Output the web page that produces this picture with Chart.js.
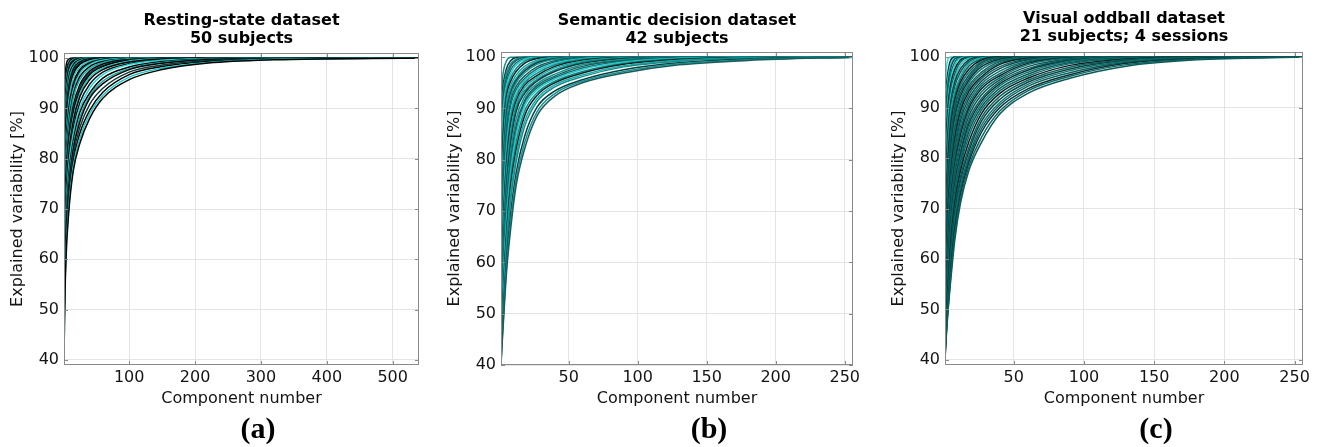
<!DOCTYPE html>
<html>
<head>
<meta charset="utf-8">
<script src="https://cdn.jsdelivr.net/npm/chart.js@4.4.1/dist/chart.umd.min.js"></script>
<style>
  html, body { margin: 0; padding: 0; background: #fff; }
  canvas { position: absolute; top: 0; }
</style>
</head>
<body>
<canvas id="restingChart" width="440" height="447" style="left:0"></canvas>
<canvas id="semanticChart" width="440" height="447" style="left:440px"></canvas>
<canvas id="oddballChart" width="440" height="447" style="left:880px"></canvas>
<script>
// tick values
const percentTicks = [40, 50, 60, 70, 80, 90, 100];
const restingTicks = [100, 200, 300, 400, 500];
const taskTicks = [50, 100, 150, 200, 250];

// (a) resting-state, explained variability [%] per subject
const restingComponents = [1, 2, 4, 8, 15, 25, 40, 60, 100, 150, 220, 320, 540];
const restingCurves = [
    [40, 50, 60, 69, 77.5, 83, 88, 92, 95.7, 97.7, 99, 99.65, 100],
    [39.2, 51.3, 61.2, 70.1, 78.5, 84, 88.9, 92.6, 96.2, 98, 99.13, 99.74, 100],
    [44, 52.5, 62.2, 71, 79.4, 85, 89.6, 93.2, 96.7, 98.3, 99.3, 99.8, 100],
    [45.3, 54, 63.6, 72.5, 80.6, 86.2, 90.8, 94, 97.2, 98.6, 99.5, 99.87, 100],
    [46.7, 55.5, 65, 74, 81.8, 87.3, 92, 94.9, 97.7, 98.95, 99.7, 99.93, 100],
    [47.6, 56.7, 66, 75.2, 82.6, 88.2, 92.5, 95.4, 97.9, 99.1, 99.75, 99.96, 100],
    [48.5, 57.9, 67.1, 76.4, 83.5, 89.2, 93, 96, 98.2, 99.3, 99.81, 100, 100],
    [50, 60, 69, 78.2, 85, 90, 94, 96.7, 98.7, 99.55, 99.9, 100, 100],
    [51.5, 61.3, 70.2, 79.3, 86.1, 91.1, 94.8, 97.2, 98.9, 99.7, 99.95, 100, 100],
    [53, 62.7, 71.5, 80.5, 87.3, 92.3, 95.7, 97.7, 99.2, 99.8, 100, 100, 100],
    [54.2, 63.8, 72.7, 81.5, 88.1, 92.9, 96.2, 98, 99.4, 99.85, 100, 100, 100],
    [55.5, 65, 74, 82.5, 89, 93.5, 96.7, 98.3, 99.55, 99.9, 100, 100, 100],
    [56.7, 66, 75.2, 83.3, 89.7, 94.1, 97, 98.5, 99.63, 99.94, 100, 100, 100],
    [57.9, 67.1, 76.4, 84.2, 90.5, 94.7, 97.4, 98.8, 99.72, 99.98, 100, 100, 100],
    [60, 69, 78.2, 85.6, 92, 95.7, 97.9, 99.1, 99.85, 100, 100, 100, 100],
    [61.3, 70.2, 79.3, 86.8, 92.7, 96.3, 98.3, 99.3, 99.9, 100, 100, 100, 100],
    [62.7, 71.5, 80.5, 88, 93.5, 96.9, 98.7, 99.55, 99.95, 100, 100, 100, 100],
    [63.8, 72.7, 81.5, 88.8, 94.2, 97.3, 98.9, 99.65, 99.97, 100, 100, 100, 100],
    [65, 74, 82.5, 89.6, 94.9, 97.7, 99.1, 99.75, 100, 100, 100, 100, 100],
    [67.1, 76.4, 84.2, 91.2, 96, 98.2, 99.4, 99.88, 100, 100, 100, 100, 100],
    [69, 78.2, 85.6, 92.4, 96.7, 98.7, 99.65, 99.93, 100, 100, 100, 100, 100],
    [70.2, 79.3, 86.8, 93.2, 97.2, 98.95, 99.75, 99.96, 100, 100, 100, 100, 100],
    [71.5, 80.5, 88, 94, 97.7, 99.2, 99.85, 100, 100, 100, 100, 100, 100],
    [73.4, 82, 89.2, 95, 98.2, 99.45, 99.9, 100, 100, 100, 100, 100, 100],
    [75.3, 83.4, 90.4, 95.9, 98.6, 99.67, 99.98, 100, 100, 100, 100, 100, 100],
    [77, 84.8, 91.6, 96.6, 98.9, 99.77, 99.99, 100, 100, 100, 100, 100, 100],
    [78.8, 86.3, 92.8, 97.3, 99.25, 99.88, 100, 100, 100, 100, 100, 100, 100],
    [80.1, 87.5, 93.7, 97.8, 99.5, 99.94, 100, 100, 100, 100, 100, 100, 100],
    [81.5, 88.8, 94.7, 98.2, 99.7, 100, 100, 100, 100, 100, 100, 100, 100],
    [83.2, 90.4, 95.7, 98.6, 99.8, 100, 100, 100, 100, 100, 100, 100, 100],
    [85, 92, 96.7, 99.1, 99.9, 100, 100, 100, 100, 100, 100, 100, 100],
    [89, 94.9, 98.3, 99.75, 100, 100, 100, 100, 100, 100, 100, 100, 100]
];

// (b) semantic decision
const semanticComponents = [1, 2, 3, 5, 8, 12, 18, 27, 40, 60, 90, 130, 180, 256];
const semanticCurves = [
    [40, 45, 49.5, 58, 66.5, 75, 82, 88.5, 92.4, 95, 96.9, 98.5, 99.35, 100],
    [40.4, 45.7, 50.5, 59.2, 68, 76.2, 83.2, 89.3, 92.9, 95.3, 97.2, 98.7, 99.5, 100],
    [40.8, 46.5, 51.6, 60.5, 69.5, 77.5, 84.5, 90.2, 93.4, 95.6, 97.55, 98.9, 99.65, 100],
    [41.5, 47.8, 53.6, 62.7, 72.2, 79.6, 86.4, 91.3, 94.2, 96.2, 98.1, 99.22, 99.83, 100],
    [42, 48.6, 54.8, 64, 73.6, 80.8, 87.4, 91.9, 94.6, 96.5, 98.3, 99.4, 99.9, 100],
    [42.5, 49.5, 56, 65.3, 75, 82, 88.5, 92.5, 95, 96.9, 98.6, 99.55, 99.95, 100],
    [43.1, 50.6, 57.4, 66.8, 76.3, 83.4, 89.4, 93, 95.3, 97.2, 98.8, 99.67, 99.97, 100],
    [43.8, 51.8, 58.8, 68.4, 77.7, 84.8, 90.4, 93.6, 95.7, 97.6, 99.03, 99.8, 100, 100],
    [44.4, 52.9, 60, 70, 78.8, 85.7, 91, 94, 96, 97.9, 99.2, 99.86, 100, 100],
    [45, 54, 61.3, 71.5, 80, 86.7, 91.5, 94.4, 96.3, 98.2, 99.35, 99.92, 100, 100],
    [46, 55.6, 62.9, 73.2, 81.6, 88, 92.2, 94.8, 96.7, 98.5, 99.55, 99.96, 100, 100],
    [47, 57.2, 64.5, 75, 83.2, 89.4, 92.9, 95.3, 97.2, 98.8, 99.75, 100, 100, 100],
    [47.8, 58.6, 66, 76.3, 84.4, 90.1, 93.4, 95.6, 97.5, 99, 99.82, 100, 100, 100],
    [48.6, 60, 67.5, 77.7, 85.7, 90.8, 94, 96, 97.9, 99.2, 99.9, 100, 100, 100],
    [49.7, 61.5, 69.4, 79.1, 87, 91.5, 94.5, 96.4, 98.2, 99.4, 99.95, 100, 100, 100],
    [50.9, 63, 71.3, 80.5, 88.2, 92.3, 95, 96.85, 98.5, 99.58, 100, 100, 100, 100],
    [52.4, 64.7, 73.1, 82.2, 89.3, 93, 95.4, 97.3, 98.8, 99.7, 100, 100, 100, 100],
    [54, 66.5, 75, 84, 90.5, 93.7, 95.8, 97.7, 99.05, 99.85, 100, 100, 100, 100],
    [56, 69, 77, 85.7, 91.4, 94.3, 96.3, 98.1, 99.3, 99.93, 100, 100, 100, 100],
    [58, 71.5, 79, 87.5, 92.4, 95, 96.9, 98.6, 99.6, 100, 100, 100, 100, 100],
    [59.6, 73.2, 80.5, 88.7, 93, 95.4, 97.3, 98.85, 99.7, 100, 100, 100, 100, 100],
    [61.3, 75, 82, 90, 93.7, 95.8, 97.7, 99.1, 99.85, 100, 100, 100, 100, 100],
    [63.9, 77.5, 84.3, 91.2, 94.5, 96.5, 98.2, 99.4, 99.92, 100, 100, 100, 100, 100],
    [66.5, 80, 86.7, 92.4, 95.3, 97.2, 98.8, 99.75, 100, 100, 100, 100, 100, 100],
    [69.9, 82.7, 88.7, 93.4, 96, 97.8, 99.2, 99.87, 100, 100, 100, 100, 100, 100],
    [73.3, 85.5, 90.7, 94.5, 96.8, 98.5, 99.58, 100, 100, 100, 100, 100, 100, 100],
    [76.1, 87.7, 92, 95.2, 97.5, 98.9, 99.75, 100, 100, 100, 100, 100, 100, 100],
    [79, 90, 93.2, 96, 98.2, 99.35, 99.95, 100, 100, 100, 100, 100, 100, 100],
    [82.2, 91.5, 94.3, 96.9, 98.7, 99.6, 99.97, 100, 100, 100, 100, 100, 100, 100],
    [85.5, 93, 95.4, 97.8, 99.3, 99.94, 100, 100, 100, 100, 100, 100, 100, 100],
    [91.3, 95.7, 97.6, 99.3, 100, 100, 100, 100, 100, 100, 100, 100, 100, 100]
];

// (c) visual oddball, 21 subjects x 4 sessions
const oddballComponents = [1, 2, 3, 5, 8, 12, 18, 27, 40, 60, 90, 130, 180, 256];
const oddballCurves = [
    [40, 45, 49, 55.5, 63.8, 71, 77.5, 83.1, 88.7, 92.8, 95.8, 98.2, 99.45, 100],
    [40.3, 45.5, 49.5, 56.4, 64.9, 71.9, 78.3, 84.1, 89.3, 93.3, 96.2, 98.5, 99.6, 100],
    [40.6, 46, 49.9, 57.3, 65.9, 72.7, 79.1, 85.1, 89.95, 93.7, 96.5, 98.75, 99.71, 100],
    [41, 46.6, 50.6, 58.3, 67, 73.6, 79.8, 85.8, 90.5, 94.2, 96.9, 98.95, 99.8, 100],
    [41.3, 47.1, 51.2, 59.3, 68, 74.5, 80.4, 86.5, 91, 94.6, 97.3, 99.15, 99.87, 100],
    [41.7, 47.7, 52, 60.3, 69, 75.4, 81.3, 87.3, 91.6, 95, 97.65, 99.3, 99.93, 100],
    [42, 48.2, 52.7, 61.3, 70, 76.3, 82.1, 88, 92.2, 95.4, 98, 99.47, 99.98, 100],
    [42.5, 48.9, 53.8, 62.6, 71, 77.4, 83.2, 88.8, 92.8, 95.8, 98.35, 99.6, 100, 100],
    [43, 49.5, 54.8, 63.8, 72, 78.4, 84.3, 89.5, 93.3, 96.2, 98.7, 99.75, 100, 100],
    [43.5, 50.1, 55.8, 64.9, 72.9, 79.1, 85.2, 90.1, 93.8, 96.6, 98.9, 99.85, 100, 100],
    [44, 50.7, 56.7, 66, 73.8, 79.8, 86, 90.7, 94.3, 97, 99.15, 99.92, 100, 100],
    [44.5, 51.4, 57.6, 67, 74.7, 80.6, 86.7, 91.3, 94.7, 97.4, 99.3, 99.96, 100, 100],
    [45, 52, 58.5, 68, 75.5, 81.3, 87.4, 91.8, 95.1, 97.7, 99.45, 100, 100, 100],
    [45.7, 53, 59.8, 69.2, 76.7, 82.4, 88.3, 92.5, 95.5, 98.1, 99.6, 100, 100, 100],
    [46.3, 54.1, 61, 70.3, 77.8, 83.4, 89.1, 93.1, 95.9, 98.5, 99.75, 100, 100, 100],
    [46.9, 55.1, 62.2, 71.3, 78.6, 84.5, 89.8, 93.7, 96.3, 98.75, 99.85, 100, 100, 100],
    [47.5, 56.1, 63.3, 72.2, 79.4, 85.5, 90.4, 94.2, 96.7, 99, 99.92, 100, 100, 100],
    [48.3, 57.3, 64.7, 73.4, 80.4, 86.5, 91.1, 94.7, 97.2, 99.2, 99.96, 100, 100, 100],
    [49, 58.5, 66, 74.5, 81.3, 87.4, 91.8, 95.2, 97.7, 99.45, 100, 100, 100, 100],
    [49.7, 59.9, 67.6, 75.8, 82.6, 88.3, 92.5, 95.7, 98.1, 99.6, 100, 100, 100, 100],
    [50.3, 61.3, 69.2, 77, 83.8, 89.2, 93.2, 96.1, 98.55, 99.77, 100, 100, 100, 100],
    [51.2, 62.6, 70.1, 78, 84.8, 89.9, 93.8, 96.6, 98.8, 99.86, 100, 100, 100, 100],
    [52, 63.8, 71, 79, 85.8, 90.6, 94.3, 97, 99.1, 99.95, 100, 100, 100, 100],
    [53.3, 65.3, 72.2, 80, 86.9, 91.4, 94.9, 97.6, 99.3, 99.98, 100, 100, 100, 100],
    [54.5, 66.8, 73.4, 81, 87.9, 92.2, 95.4, 98.1, 99.55, 100, 100, 100, 100, 100],
    [55.8, 68.3, 74.7, 82.2, 88.9, 92.9, 95.9, 98.5, 99.7, 100, 100, 100, 100, 100],
    [57, 69.7, 76, 83.4, 89.8, 93.6, 96.4, 98.85, 99.85, 100, 100, 100, 100, 100],
    [58.5, 71, 77.3, 84.7, 90.6, 94.3, 97, 99.1, 99.93, 100, 100, 100, 100, 100],
    [60, 72.2, 78.6, 86, 91.4, 95, 97.6, 99.4, 100, 100, 100, 100, 100, 100],
    [61.9, 73.9, 80, 87.4, 92.3, 95.6, 98.2, 99.6, 100, 100, 100, 100, 100, 100],
    [63.8, 75.5, 81.3, 88.7, 93.2, 96.2, 98.7, 99.82, 100, 100, 100, 100, 100, 100],
    [65.9, 77.3, 83.2, 89.9, 94.2, 97, 99.1, 99.91, 100, 100, 100, 100, 100, 100],
    [68, 79, 85, 91, 95.1, 97.7, 99.45, 100, 100, 100, 100, 100, 100, 100],
    [70.1, 80.8, 86.7, 92.2, 95.9, 98.4, 99.7, 100, 100, 100, 100, 100, 100, 100],
    [72.2, 82.5, 88.4, 93.4, 96.7, 99, 99.92, 100, 100, 100, 100, 100, 100, 100],
    [74.4, 84.6, 89.8, 94.5, 97.6, 99.4, 99.96, 100, 100, 100, 100, 100, 100, 100],
    [76.5, 86.6, 91.2, 95.5, 98.4, 99.73, 100, 100, 100, 100, 100, 100, 100, 100],
    [78.9, 88.6, 92.8, 96.6, 99, 99.87, 100, 100, 100, 100, 100, 100, 100, 100],
    [81.3, 90.6, 94.3, 97.7, 99.6, 100, 100, 100, 100, 100, 100, 100, 100, 100],
    [84.2, 92.3, 95.6, 98.5, 99.8, 100, 100, 100, 100, 100, 100, 100, 100, 100],
    [87, 94, 96.8, 99.35, 100, 100, 100, 100, 100, 100, 100, 100, 100, 100],
    [92.8, 97.7, 99.45, 100, 100, 100, 100, 100, 100, 100, 100, 100, 100, 100]
];

// line colours, cycled over the curves
const restingPalette = ['#000000', '#1fc8c8', '#000000', '#0a3a3a', '#000000', '#15aaaa', '#000000', '#26d3d3', '#041e1e'];
const semanticPalette = ['#1d5a5a', '#0f9595', '#0c3c3c', '#138c8c', '#19a9a9', '#0a2020', '#0d8a8a', '#27caca', '#0b6f6f'];
const oddballPalette = ['#0c5a5a', '#0e6767', '#073030', '#0b5f5f', '#117070', '#0a4444', '#0c6262', '#041c1c', '#0e6a6a', '#0b5858',
    '#127676', '#083535', '#0d6363', '#0b5454', '#0f6e6e', '#062626', '#0c5d5d', '#107171', '#0a4a4a', '#0d6565',
    '#052020', '#0f6b6b', '#0c5b5b', '#127878', '#083232', '#0d6161', '#0b5656', '#107272', '#041a1a', '#0e6666',
    '#18a8a8', '#0c5959', '#0a3d3d', '#22c6c6', '#0d6464', '#062424', '#2ad4d4', '#0f6d6d', '#0b5050', '#27cfcf',
    '#073030', '#30dcdc'];

Chart.defaults.font.family = 'DejaVu Sans';
Chart.defaults.color = '#141414';

// box round the plot with inward ticks on all four sides, plus the (a)/(b)/(c) label
const axesBox = {
    id: 'axesBox',
    afterDatasetsDraw(chart, args, opts) {
        const {ctx, chartArea: a, scales: {x, y}} = chart;
        const len = 4;
        ctx.save();
        ctx.strokeStyle = '#8a8a8a';
        ctx.lineWidth = 1;
        ctx.strokeRect(Math.round(a.left) + 0.5, Math.round(a.top) + 0.5, Math.round(a.width) - 1, Math.round(a.height) - 1);
        ctx.beginPath();
        x.ticks.forEach(t => {
            const px = Math.round(x.getPixelForValue(t.value)) + 0.5;
            ctx.moveTo(px, a.bottom); ctx.lineTo(px, a.bottom - len);
            ctx.moveTo(px, a.top); ctx.lineTo(px, a.top + len);
        });
        y.ticks.forEach(t => {
            const py = Math.round(y.getPixelForValue(t.value)) + 0.5;
            ctx.moveTo(a.left, py); ctx.lineTo(a.left + len, py);
            ctx.moveTo(a.right, py); ctx.lineTo(a.right - len, py);
        });
        ctx.stroke();

        ctx.fillStyle = '#000';
        ctx.font = 'bold 30px "Liberation Serif"';
        ctx.textAlign = 'center';
        ctx.textBaseline = 'alphabetic';
        ctx.fillText(opts.label, opts.labelX, 438);
        ctx.restore();
    }
};

function buildDatasets(components, curves, palette) {
    return curves.map((curve, i) => ({
        data: curve.map((v, j) => ({x: components[j], y: v})),
        borderColor: palette[i % palette.length],
        borderWidth: 1.5,
        pointRadius: 0,
        fill: false,
        cubicInterpolationMode: 'monotone'
    }));
}

function makePanel(id, p) {
    const tickFont = {size: 16};
    return new Chart(document.getElementById(id), {
        type: 'line',
        data: {datasets: buildDatasets(p.components, p.curves, p.palette)},
        plugins: [axesBox],
        options: {
            responsive: false,
            animation: false,
            events: [],
            layout: {padding: {left: 0, right: p.padRight, top: 0, bottom: 39}},
            scales: {
                x: {
                    type: 'linear',
                    min: 1,
                    max: p.xMax,
                    afterBuildTicks: s => { s.ticks = p.xTicks.map(v => ({value: v})); },
                    afterFit: s => { s.height = 43; },
                    grid: {color: '#e4e4e4', drawTicks: false},
                    border: {display: false},
                    ticks: {padding: 3, font: tickFont, maxRotation: 0, autoSkip: false},
                    title: {display: true, text: 'Component number', font: {size: 16}, padding: {top: 0, bottom: 0}}
                },
                y: {
                    min: p.yMin,
                    max: 101,
                    afterBuildTicks: s => { s.ticks = percentTicks.map(v => ({value: v})); },
                    afterFit: s => { s.width = p.yWidth; },
                    grid: {color: '#e4e4e4', drawTicks: false},
                    border: {display: false},
                    ticks: {padding: 5, font: tickFont},
                    title: {display: true, text: 'Explained variability [%]', font: {size: 16}, padding: {top: p.yTitlePad, bottom: 0}}
                }
            },
            plugins: {
                legend: {display: false},
                tooltip: {enabled: false},
                title: {
                    display: true,
                    text: p.title,
                    fullSize: false,
                    color: '#000',
                    font: {size: 16, weight: 'bold', lineHeight: 1.125},
                    padding: {top: p.titleTop, bottom: p.titleBottom}
                },
                axesBox: {label: p.label, labelX: p.labelX}
            }
        }
    });
}

makePanel('restingChart', {
    components: restingComponents, curves: restingCurves, palette: restingPalette,
    title: ['Resting-state dataset', '50 subjects'], label: '(a)', labelX: 258,
    xMax: 540, xTicks: restingTicks, yMin: 39,
    padRight: 21, yWidth: 64, yTitlePad: 8, titleTop: 12, titleBottom: 5
});

makePanel('semanticChart', {
    components: semanticComponents, curves: semanticCurves, palette: semanticPalette,
    title: ['Semantic decision dataset', '42 subjects'], label: '(b)', labelX: 269,
    xMax: 256, xTicks: taskTicks, yMin: 40,
    padRight: 27, yWidth: 61, yTitlePad: 5, titleTop: 12, titleBottom: 4
});

makePanel('oddballChart', {
    components: oddballComponents, curves: oddballCurves, palette: oddballPalette,
    title: ['Visual oddball dataset', '21 subjects; 4 sessions'], label: '(c)', labelX: 276,
    xMax: 256, xTicks: taskTicks, yMin: 39,
    padRight: 17, yWidth: 65, yTitlePad: 9, titleTop: 10, titleBottom: 6
});
</script>
</body>
</html>
